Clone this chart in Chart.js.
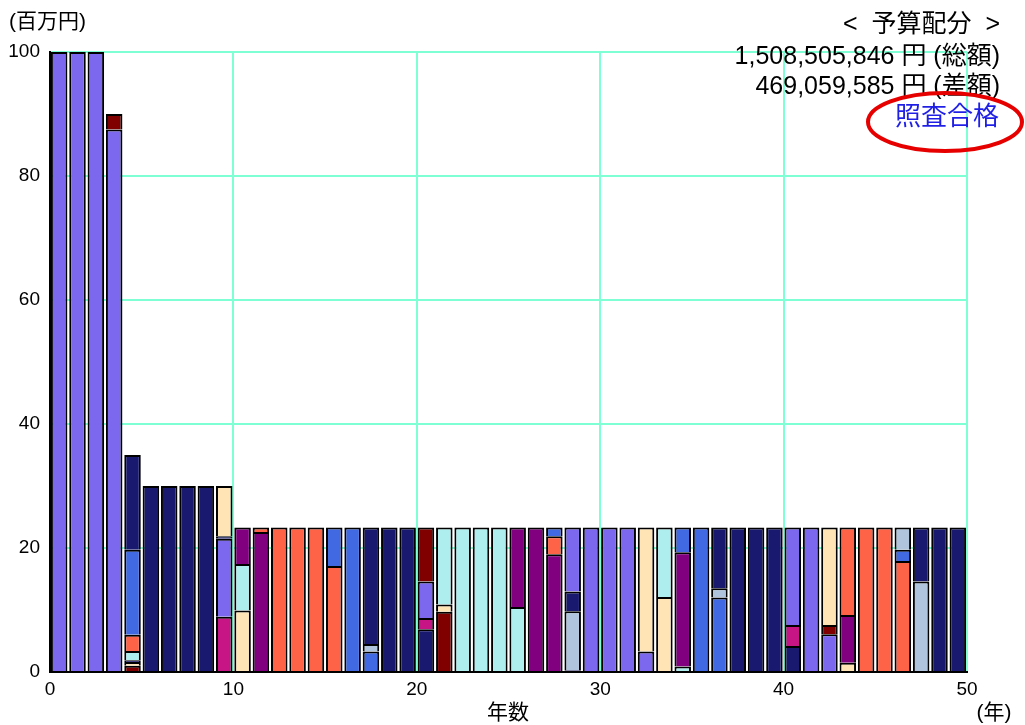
<!DOCTYPE html>
<html lang="ja">
<head>
<meta charset="utf-8">
<title>予算配分</title>
<script src="https://cdn.jsdelivr.net/npm/chart.js@4.4.1/dist/chart.umd.min.js"></script>
<style>
    html, body { margin: 0; padding: 0; background: #ffffff; }
    #budgetChart { display: block; }
</style>
</head>
<body>
<canvas id="budgetChart" width="1025" height="725"></canvas>
<script>
// ===========================
// Data
// ===========================

const years = [
    1, 2, 3, 4, 5, 6, 7, 8, 9, 10,
    11, 12, 13, 14, 15, 16, 17, 18, 19, 20,
    21, 22, 23, 24, 25, 26, 27, 28, 29, 30,
    31, 32, 33, 34, 35, 36, 37, 38, 39, 40,
    41, 42, 43, 44, 45, 46, 47, 48, 49, 50
];

const xTickValues = [0, 10, 20, 30, 40, 50];
const yTickValues = [0, 20, 40, 60, 80, 100];

// item code of each stacked segment, one character per year ('.' = none)
// layer 1 is the bottom segment of each bar
const layer1Items = 'SSSSMNNNNV' + 'WPTTTTRRNN' + 'NMQQQQPPNS' + 'SSSWQRRNNN' + 'NSSWTTTLNN';
const layer2Items = '...MW....S' + 'QT...R.L..' + 'VW...P.TL.' + '..WQP.L...' + 'V.MP..RN..';
const layer3Items = '....N....N' + 'P......N..' + 'SQ.....RN.' + '....R.N...' + 'S.WT..L...';
const layer4Items = '....Q....W' + '..........' + 'M.......S.' + '..........' + '..........';
const layer5Items = '....T.....' + '..........' + '..........' + '..........' + '..........';
const layer6Items = '....R.....' + '..........' + '..........' + '..........' + '..........';
const layer7Items = '....N.....' + '..........' + '..........' + '..........' + '..........';

// segment values (百万円)
const layer1Values = [
    100, 100, 100, 87.5, 1.0, 30, 30, 30, 30, 8.9,
    9.9, 22.6, 23.3, 23.3, 23.3, 17.1, 23.3, 3.3, 23.3, 23.3,
    6.9, 9.7, 23.3, 23.3, 23.3, 10.5, 23.3, 19.0, 0.3, 23.3,
    23.3, 23.3, 3.3, 12.1, 0.9, 23.3, 12.0, 23.3, 23.3, 23.3,
    4.2, 23.3, 6.1, 1.5, 23.3, 23.3, 17.9, 14.6, 23.3, 23.3
];
const layer2Values = [
    null, null, null, 2.5, 0.6, null, null, null, null, 12.6,
    7.5, 0.7, null, null, null, 6.2, null, 1.2, null, null,
    1.8, 1.2, null, null, null, 12.8, null, 2.9, 9.5, null,
    null, null, 20.0, 11.2, 18.4, null, 1.5, null, null, null,
    3.4, null, 1.5, 7.7, null, null, 1.8, 8.7, null, null
];
const layer3Values = [
    null, null, null, null, 0.3, null, null, null, null, 0.4,
    5.9, null, null, null, null, null, null, 18.8, null, null,
    5.9, 12.4, null, null, null, null, null, 1.4, 3.2, null,
    null, null, null, null, 4.0, null, 9.8, null, null, null,
    15.7, null, 15.7, 14.1, null, null, 3.6, null, null, null
];
const layer4Values = [
    null, null, null, null, 1.5, null, null, null, null, 8.1,
    null, null, null, null, null, null, null, null, null, null,
    8.7, null, null, null, null, null, null, null, 10.3, null,
    null, null, null, null, null, null, null, null, null, null,
    null, null, null, null, null, null, null, null, null, null
];
const layer5Values = [
    null, null, null, null, 2.6, null, null, null, null, null,
    null, null, null, null, null, null, null, null, null, null,
    null, null, null, null, null, null, null, null, null, null,
    null, null, null, null, null, null, null, null, null, null,
    null, null, null, null, null, null, null, null, null, null
];
const layer6Values = [
    null, null, null, null, 13.7, null, null, null, null, null,
    null, null, null, null, null, null, null, null, null, null,
    null, null, null, null, null, null, null, null, null, null,
    null, null, null, null, null, null, null, null, null, null,
    null, null, null, null, null, null, null, null, null, null
];
const layer7Values = [
    null, null, null, null, 15.3, null, null, null, null, null,
    null, null, null, null, null, null, null, null, null, null,
    null, null, null, null, null, null, null, null, null, null,
    null, null, null, null, null, null, null, null, null, null,
    null, null, null, null, null, null, null, null, null, null
];

const unitLabel = '(百万円)';
const xAxisLabel = '年数';
const xUnitLabel = '(年)';
const summaryLines = ['<  予算配分  >', '1,508,505,846 円 (総額)', '469,059,585 円 (差額)'];
const verdictLabel = '照査合格';

// ===========================
// Styles
// ===========================

const itemColors = {
    S: '#7B68EE',
    M: '#800000',
    N: '#191970',
    R: '#4169E1',
    T: '#FF6347',
    Q: '#AFEEEE',
    W: '#FFE4B5',
    V: '#C71585',
    P: '#800080',
    L: '#B0C4DE'
};

const gridColor = '#7FFFD4';
// Latin glyphs from Liberation Sans, kanji fall back to Noto CJK
const fontFamily = '"Liberation Sans", "Noto Sans CJK JP", sans-serif';

// ===========================
// Chart.js Configuration
// ===========================

const layers = [
    { items: layer1Items, values: layer1Values },
    { items: layer2Items, values: layer2Values },
    { items: layer3Items, values: layer3Values },
    { items: layer4Items, values: layer4Values },
    { items: layer5Items, values: layer5Values },
    { items: layer6Items, values: layer6Values },
    { items: layer7Items, values: layer7Values }
];

function buildDatasets() {
    return layers.map((layer, n) => {
        const points = [];
        const colors = [];
        years.forEach((year, i) => {
            if (layer.values[i] == null) return;
            // each bar fills the interval (year - 1, year)
            points.push({ x: year - 0.5, y: layer.values[i] });
            colors.push(itemColors[layer.items[i]]);
        });
        return {
            label: 'layer ' + (n + 1),
            data: points,
            backgroundColor: colors,
            borderColor: '#000000',
            borderWidth: 2,
            barPercentage: 0.9,
            categoryPercentage: 1.0
        };
    });
}

const notesPlugin = {
    id: 'budgetNotes',
    afterDraw(chart) {
        const ctx = chart.ctx;
        ctx.save();
        ctx.fillStyle = '#000000';
        ctx.textBaseline = 'middle';

        ctx.font = '21px ' + fontFamily;
        ctx.textAlign = 'left';
        ctx.fillText(unitLabel, 9, 22);

        ctx.font = '21px ' + fontFamily;
        ctx.textAlign = 'center';
        ctx.fillText(xAxisLabel, 508, 713);
        ctx.fillText(xUnitLabel, 994, 713);

        ctx.font = '25px ' + fontFamily;
        ctx.textAlign = 'right';
        ctx.fillText(summaryLines[0], 1000, 25);
        ctx.fillText(summaryLines[1], 1000, 57);
        ctx.fillText(summaryLines[2], 1000, 87);

        ctx.font = '26px ' + fontFamily;
        ctx.fillStyle = '#1f1fe6';
        ctx.fillText(verdictLabel, 999, 118);

        ctx.strokeStyle = '#e60000';
        ctx.lineWidth = 4;
        ctx.beginPath();
        ctx.ellipse(945, 122, 77, 29, 0, 0, Math.PI * 2);
        ctx.stroke();
        ctx.restore();
    }
};

new Chart(document.getElementById('budgetChart'), {
    type: 'bar',
    data: { datasets: buildDatasets() },
    options: {
        responsive: false,
        animation: false,
        layout: {
            padding: { left: 0, top: 52, right: 58, bottom: 0 }
        },
        plugins: {
            legend: { display: false },
            tooltip: { enabled: false }
        },
        scales: {
            x: {
                type: 'linear',
                min: 0,
                max: 50,
                offset: false,
                stacked: true,
                afterBuildTicks: axis => { axis.ticks = xTickValues.map(value => ({ value })); },
                afterFit: axis => { axis.height = 53; },
                grid: {
                    color: gridColor,
                    lineWidth: 2,
                    drawTicks: false,
                    offset: false
                },
                border: { color: '#000000', width: 2 },
                ticks: {
                    color: '#000000',
                    padding: 6,
                    maxRotation: 0,
                    autoSkip: false,
                    font: { family: fontFamily, size: 19 }
                }
            },
            y: {
                min: 0,
                max: 100,
                stacked: true,
                afterBuildTicks: axis => { axis.ticks = yTickValues.map(value => ({ value })); },
                afterFit: axis => { axis.width = 50; },
                grid: {
                    color: gridColor,
                    lineWidth: 2,
                    drawTicks: false
                },
                border: { color: '#000000', width: 2 },
                ticks: {
                    color: '#000000',
                    padding: 10,
                    font: { family: fontFamily, size: 19 }
                }
            }
        }
    },
    plugins: [notesPlugin]
});
</script>
</body>
</html>
